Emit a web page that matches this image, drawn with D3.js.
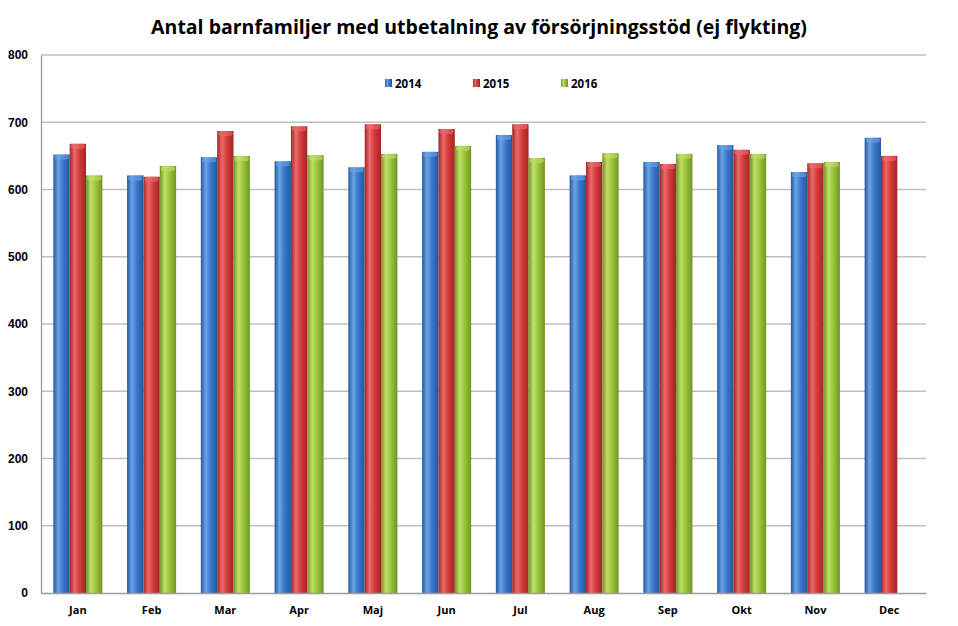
<!DOCTYPE html>
<html lang="en">
<head>
	<meta charset="utf-8" />
	<title>Antal barnfamiljer</title>
	<style>
		body { margin: 0; padding: 0; background: #fff; }
		text { font-family: 'Open Sans', 'DejaVu Sans', sans-serif; }
	</style>
	<script src="https://d3js.org/d3.v7.min.js"></script>
</head>
<body>
	<div id="chart"></div>
	<script>
	const months = ["Jan", "Feb", "Mar", "Apr", "Maj", "Jun", "Jul", "Aug", "Sep", "Okt", "Nov", "Dec"];
	const years = ["2014", "2015", "2016"];
	const v2014 = [652, 621, 648, 642, 633, 656, 681, 621, 641, 666, 626, 677];
	const v2015 = [668, 619, 687, 694, 697, 690, 697, 641, 638, 659, 639, 650];
	const v2016 = [621, 635, 650, 651, 653, 665, 647, 654, 653, 653, 641, null];
	const yTicks = [0, 100, 200, 300, 400, 500, 600, 700, 800];

	const series = [v2014, v2015, v2016];
	// base, light, dark for each series
	const colors = [
		{ base: "#3a78c9", light: "#6aa3e6", dark: "#24589e" },
		{ base: "#d53a3a", light: "#ec6a6a", dark: "#a12626" },
		{ base: "#9bc43b", light: "#bfe06a", dark: "#709525" }
	];

	const W = 958, H = 626;
	const m = { left: 41, right: 32, top: 55, bottom: 33 };

	const svg = d3.select("#chart").append("svg")
		.attr("width", W).attr("height", H);

	const defs = svg.append("defs");
	colors.forEach(function(c, i) {
		const g = defs.append("linearGradient").attr("id", "bar" + i)
			.attr("x1", "0").attr("x2", "1").attr("y1", "0").attr("y2", "0");
		g.append("stop").attr("offset", "0").attr("stop-color", c.dark);
		g.append("stop").attr("offset", "0.3").attr("stop-color", c.light);
		g.append("stop").attr("offset", "0.6").attr("stop-color", c.base);
		g.append("stop").attr("offset", "1").attr("stop-color", c.dark);
	});

	const x = d3.scaleBand().domain(months)
		.range([m.left, W - m.right]).paddingInner(0.335).paddingOuter(0.167);
	const xs = d3.scaleBand().domain(years).range([0, x.bandwidth()]);
	const y = d3.scaleLinear().domain([0, 800]).range([H - m.bottom, m.top]);

	// title
	svg.append("text")
		.attr("x", 479).attr("y", 34)
		.attr("text-anchor", "middle")
		.style("font-size", "19.5px").style("font-weight", "bold")
		.attr("fill", "#000")
		.text("Antal barnfamiljer med utbetalning av försörjningsstöd (ej flykting)");

	// grid
	svg.append("g").selectAll("line").data(yTicks.filter(d => d > 0)).enter().append("line")
		.attr("x1", m.left).attr("x2", W - m.right)
		.attr("y1", d => y(d)).attr("y2", d => y(d))
		.attr("stroke", "#bfbfbf").attr("stroke-width", 1.3);

	// y axis
	const yAxis = svg.append("g").attr("transform", "translate(" + m.left + ",0)")
		.call(d3.axisLeft(y).tickValues(yTicks).tickSize(0).tickPadding(13));
	yAxis.select(".domain").attr("stroke", "#9a9a9a").attr("stroke-width", 1.3);
	yAxis.selectAll("text").style("font-size", "12px").style("font-weight", "bold")
		.style("font-family", "'Liberation Sans', Arial, sans-serif").attr("fill", "#000");

	// bars
	const groups = svg.append("g").selectAll("g").data(months).enter().append("g")
		.attr("transform", d => "translate(" + x(d) + ",0)");

	groups.each(function(mo, mi) {
		const g = d3.select(this);
		series.forEach(function(s, si) {
			const v = s[mi];
			if (v == null) return;
			const bx = xs(years[si]), bw = xs.bandwidth();
			g.append("rect")
				.attr("x", bx).attr("y", y(v))
				.attr("width", bw).attr("height", y(0) - y(v))
				.attr("fill", "url(#bar" + si + ")");
			g.append("rect")
				.attr("x", bx + 1).attr("y", y(v))
				.attr("width", bw - 2).attr("height", 5)
				.attr("rx", 3)
				.attr("fill", colors[si].light).attr("opacity", 0.6);
		});
	});

	// x axis
	const xAxis = svg.append("g").attr("transform", "translate(0," + (H - m.bottom) + ")")
		.call(d3.axisBottom(x).tickSize(0).tickPadding(13));
	xAxis.select(".domain").attr("stroke", "#9a9a9a").attr("stroke-width", 1.3);
	xAxis.selectAll("text").style("font-size", "11px").style("font-weight", "bold").attr("fill", "#000");

	// legend
	const legX = [385, 473, 561];
	const leg = svg.append("g").selectAll("g").data(years).enter().append("g")
		.attr("transform", (d, i) => "translate(" + legX[i] + ",79)");
	leg.append("rect").attr("width", 7).attr("height", 8)
		.attr("fill", (d, i) => "url(#bar" + i + ")");
	leg.append("text").attr("x", 10).attr("y", 8.5)
		.style("font-size", "11.5px").style("font-weight", "bold")
		.attr("fill", "#000").text(d => d);
	</script>
</body>
</html>
